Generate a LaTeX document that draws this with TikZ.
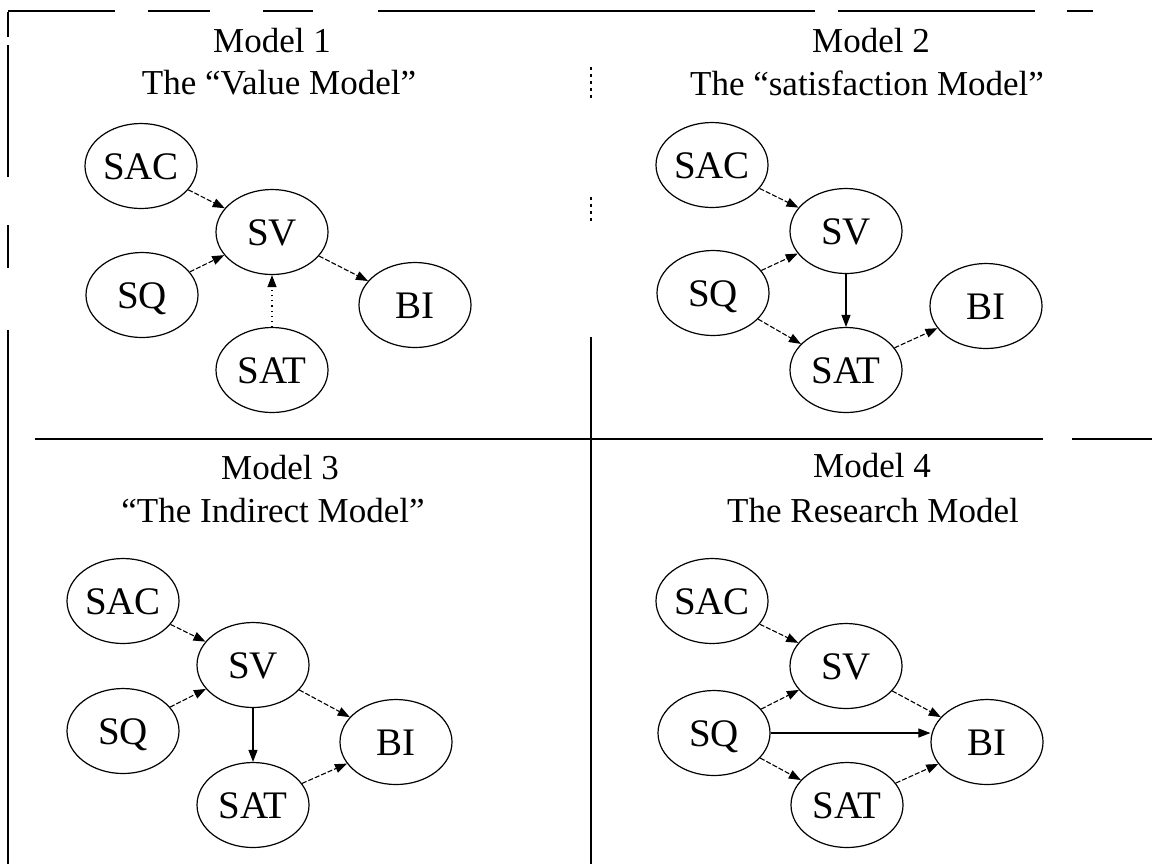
\documentclass[tikz,border=0pt]{standalone}
\usepackage{fontspec}
\setmainfont{Liberation Serif}
\usetikzlibrary{shapes.geometric,arrows.meta}
\begin{document}
\begin{tikzpicture}[x=0.5pt,y=-0.5pt,
  var/.style={ellipse,draw,line width=0.6pt,minimum width=56pt,minimum height=42.5pt,
    inner sep=0pt,text height=13pt,text depth=0pt,font=\fontsize{19.5}{20}\selectfont},
  heading/.style={anchor=base,inner sep=0pt,font=\fontsize{17.5}{19}\selectfont},
  link/.style={line width=0.55pt,-{Triangle[length=6pt,width=4.5pt]}},
  faint/.style={link,dash pattern=on 2.5pt off 1pt},
  rule/.style={line width=0.9pt},
  thinrule/.style={line width=0.6pt,dash pattern=on 1.5pt off 2pt}]
\useasboundingbox (0,0) rectangle (1170,864);

% frame and panel dividers
\foreach \a/\b in {8/115,148/210,263/313,378/815,838/1035,1067/1093}
  \draw[rule] (\a,11) -- (\b,11);
\foreach \a/\b in {12/37,45/177,225/268,330/864}
  \draw[rule,line width=1.1pt] (8,\a) -- (8,\b);
\draw[thinrule] (591,67) -- (591,100);
\draw[thinrule] (591,197) -- (591,222);
\draw[rule,line width=1.1pt] (591,337) -- (591,864);
\draw[rule] (35,439) -- (1043,439);
\draw[rule] (1072,439) -- (1152,439);

% Model 1
\node[heading] (h1a) at (272,52) {Model 1};
\node[heading] (h1b) at (279,94) {The “Value Model”};
\node[var] (SAC1) at (141,166) {SAC};
\node[var] (SV1)  at (272,232) {SV};
\node[var] (SQ1)  at (142,295) {SQ};
\node[var] (BI1)  at (415,305) {BI};
\node[var] (SAT1) at (272,370) {SAT};
\draw[faint] (SAC1) -- (SV1);
\draw[faint] (SQ1) -- (SV1);
\draw[faint] (SV1) -- (BI1);
\draw[link,dotted] (SAT1) -- (SV1);

% Model 2
\node[heading] (h2a) at (871,52) {Model 2};
\node[heading] (h2b) at (867,95) {The “satisfaction Model”};
\node[var] (SAC2) at (712,165) {SAC};
\node[var] (SV2)  at (846,231) {SV};
\node[var] (SQ2)  at (713,293) {SQ};
\node[var] (BI2)  at (986,306) {BI};
\node[var] (SAT2) at (846,370) {SAT};
\draw[faint] (SAC2) -- (SV2);
\draw[faint] (SQ2) -- (SV2);
\draw[link] (SV2) -- (SAT2);
\draw[faint] (SQ2) -- (SAT2);
\draw[faint] (SAT2) -- (BI2);

% Model 3
\node[heading] (h3a) at (280,479) {Model 3};
\node[heading] (h3b) at (273,522) {“The Indirect Model”};
\node[var] (SAC3) at (123,601) {SAC};
\node[var] (SV3)  at (253,665) {SV};
\node[var] (SQ3)  at (123,731) {SQ};
\node[var] (BI3)  at (396,742) {BI};
\node[var] (SAT3) at (253,805) {SAT};
\draw[faint] (SAC3) -- (SV3);
\draw[faint] (SQ3) -- (SV3);
\draw[link] (SV3) -- (SAT3);
\draw[faint] (SV3) -- (BI3);
\draw[faint] (SAT3) -- (BI3);

% Model 4
\node[heading] (h4a) at (872,477) {Model 4};
\node[heading] (h4b) at (873,522) {The Research Model};
\node[var] (SAC4) at (712,601) {SAC};
\node[var] (SV4)  at (846,666) {SV};
\node[var] (SQ4)  at (714,733) {SQ};
\node[var] (BI4)  at (987,742) {BI};
\node[var] (SAT4) at (847,805) {SAT};
\draw[faint] (SAC4) -- (SV4);
\draw[faint] (SQ4) -- (SV4);
\draw[faint] (SV4) -- (BI4);
\draw[link] (SQ4.east) -- (SQ4.east -| BI4.west);
\draw[faint] (SQ4) -- (SAT4);
\draw[faint] (SAT4) -- (BI4);
\end{tikzpicture}
\end{document}
